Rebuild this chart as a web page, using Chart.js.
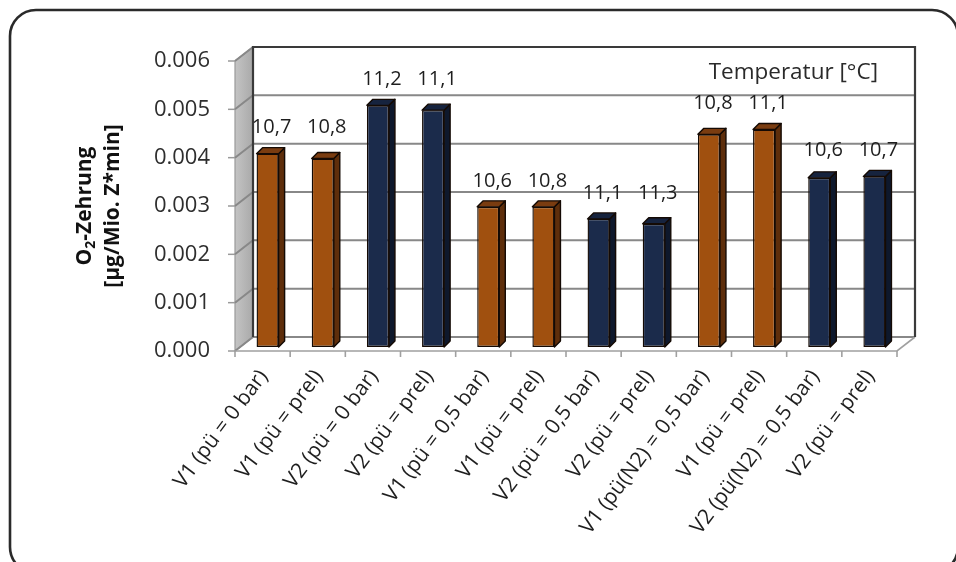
<!DOCTYPE html>
<html>
<head>
<meta charset="utf-8">
<script src="https://cdn.jsdelivr.net/npm/chart.js@4.4.1/dist/chart.umd.min.js"></script>
<style>
  html, body { margin: 0; padding: 0; background: #fff; }
  canvas { display: block; }
</style>
</head>
<body>
<canvas id="c" width="956" height="562"></canvas>
<script>
// Versuchsvarianten (Kategorien der x-Achse)
const categories = [
  'V1 (pü = 0 bar)', 'V1 (pü = prel)', 'V2 (pü = 0 bar)', 'V2 (pü = prel)',
  'V1 (pü = 0,5 bar)', 'V1 (pü = prel)', 'V2 (pü = 0,5 bar)', 'V2 (pü = prel)',
  'V1 (pü(N2) = 0,5 bar)', 'V1 (pü = prel)', 'V2 (pü(N2) = 0,5 bar)', 'V2 (pü = prel)'
];

// O2-Zehrung in µg/Mio. Z*min
const zehrung = [
  0.0040, 0.0039, 0.0050, 0.0049,
  0.0029, 0.0029, 0.00265, 0.00255,
  0.0044, 0.0045, 0.0035, 0.00353
];

// gemessene Temperatur je Variante in °C
const temperaturen = [
  '10,7', '10,8', '11,2', '11,1',
  '10,6', '10,8', '11,1', '11,3',
  '10,8', '11,1', '10,6', '10,7'
];

// Achsenbereich der y-Achse
const yMin = 0;
const yMax = 0.006;
const yStep = 0.001;

// Farben je Versuchsreihe: Vorderseite, Seitenfläche, Deckfläche
const palette = {
  V1: { front: '#A0500F', side: '#5E2E0B', top: '#7A3C10' },
  V2: { front: '#1B2B4B', side: '#0E182C', top: '#16233E' }
};
const seriesOf = (label) => label.startsWith('V1') ? 'V1' : 'V2';

const FONT = "'Open Sans', 'DejaVu Sans', sans-serif";

// Raumtiefe der Wände und der Säulen (Pseudo-3D)
const WALL_DX = 18, WALL_DY = 14;
const BAR_SHIFT_X = 5, BAR_SHIFT_Y = -4;
const BAR_DX = 6, BAR_DY = 6;

const frame3d = {
  id: 'frame3d',
  beforeDraw(chart) {
    const { ctx, width, height } = chart;
    ctx.save();
    ctx.fillStyle = '#fff';
    ctx.fillRect(0, 0, width, height);
    // abgerundeter Rahmen
    ctx.strokeStyle = '#2a2a2a';
    ctx.lineWidth = 2.6;
    ctx.beginPath();
    ctx.roundRect(10, 10, 948, 563, 26);
    ctx.stroke();
    ctx.restore();
  },
  beforeDatasetsDraw(chart) {
    const { ctx, chartArea: a, scales: { y } } = chart;
    const L = a.left, R = a.right, T = a.top, B = a.bottom;
    ctx.save();

    // Rückwand
    ctx.fillStyle = '#fff';
    ctx.fillRect(L + WALL_DX, T - WALL_DY, R - L, B - T);

    // Seitenwand links
    ctx.beginPath();
    ctx.moveTo(L, T);
    ctx.lineTo(L + WALL_DX, T - WALL_DY);
    ctx.lineTo(L + WALL_DX, B - WALL_DY);
    ctx.lineTo(L, B);
    ctx.closePath();
    const g = ctx.createLinearGradient(L, 0, L + WALL_DX, 0);
    g.addColorStop(0, '#c4c4c4');
    g.addColorStop(1, '#a9a9a9');
    ctx.fillStyle = g;
    ctx.fill();
    ctx.strokeStyle = '#9a9a9a';
    ctx.lineWidth = 1.2;
    ctx.stroke();

    // Gitterlinien auf Rück- und Seitenwand
    ctx.strokeStyle = '#888';
    ctx.lineWidth = 2;
    y.ticks.forEach((t) => {
      const py = y.getPixelForValue(t.value);
      ctx.beginPath();
      ctx.moveTo(L, py);
      ctx.lineTo(L + WALL_DX, py - WALL_DY);
      ctx.lineTo(R + WALL_DX, py - WALL_DY);
      ctx.stroke();
    });

    // Teilstriche der y-Achse
    ctx.strokeStyle = '#9a9a9a';
    ctx.lineWidth = 1.5;
    y.ticks.forEach((t) => {
      const py = y.getPixelForValue(t.value);
      ctx.beginPath();
      ctx.moveTo(L - 7, py);
      ctx.lineTo(L, py);
      ctx.stroke();
    });

    // Boden
    ctx.strokeStyle = '#a0a0a0';
    ctx.lineWidth = 1.6;
    ctx.beginPath();
    ctx.moveTo(L, B);
    ctx.lineTo(R, B);
    ctx.lineTo(R + WALL_DX, B - WALL_DY);
    ctx.stroke();

    // Teilstriche der x-Achse an den Kategoriegrenzen
    const n = categories.length;
    const step = (R - L) / n;
    for (let k = 0; k <= n; k++) {
      const px = L + k * step;
      ctx.beginPath();
      ctx.moveTo(px, B);
      ctx.lineTo(px, B + 6);
      ctx.stroke();
    }

    // Kanten der Rückwand
    ctx.strokeStyle = '#3a3a3a';
    ctx.lineWidth = 2.2;
    ctx.beginPath();
    ctx.moveTo(L + WALL_DX, B - WALL_DY);
    ctx.lineTo(L + WALL_DX, T - WALL_DY);
    ctx.lineTo(R + WALL_DX, T - WALL_DY);
    ctx.lineTo(R + WALL_DX, B - WALL_DY);
    ctx.stroke();

    ctx.restore();

    // Säulen etwas in die Tiefe versetzt zeichnen
    ctx.save();
    ctx.translate(BAR_SHIFT_X, BAR_SHIFT_Y);
  },
  afterDatasetsDraw(chart) {
    const { ctx } = chart;
    const meta = chart.getDatasetMeta(0);
    const tops = [];
    meta.data.forEach((bar, i) => {
      const { x, y, base, width } = bar.getProps(['x', 'y', 'base', 'width'], true);
      const c = palette[seriesOf(categories[i])];
      const l = x - width / 2, r = x + width / 2;
      ctx.lineWidth = 1.4;
      ctx.strokeStyle = '#140a04';
      ctx.lineJoin = 'round';
      // Seitenfläche
      ctx.beginPath();
      ctx.moveTo(r, y);
      ctx.lineTo(r + BAR_DX, y - BAR_DY);
      ctx.lineTo(r + BAR_DX, base - BAR_DY);
      ctx.lineTo(r, base);
      ctx.closePath();
      ctx.fillStyle = c.side;
      ctx.fill();
      ctx.stroke();
      // Deckfläche
      ctx.beginPath();
      ctx.moveTo(l, y);
      ctx.lineTo(l + BAR_DX, y - BAR_DY);
      ctx.lineTo(r + BAR_DX, y - BAR_DY);
      ctx.lineTo(r, y);
      ctx.closePath();
      ctx.fillStyle = c.top;
      ctx.fill();
      ctx.stroke();
      tops.push({ x: x + BAR_DX / 2, y: y });
    });

    // Temperaturen paarweise auf gleicher Höhe über den Säulen
    ctx.fillStyle = '#1e1e1e';
    ctx.font = `20px ${FONT}`;
    ctx.textAlign = 'center';
    ctx.textBaseline = 'middle';
    for (let i = 0; i < tops.length; i += 2) {
      const py = Math.min(tops[i].y, tops[i + 1].y) - 26;
      ctx.fillText(temperaturen[i], tops[i].x + 1, py);
      ctx.fillText(temperaturen[i + 1], tops[i + 1].x + 1, py);
    }
    ctx.restore();

    // Beschriftung der Temperaturwerte
    const a = chart.chartArea;
    const yS = chart.scales.y;
    ctx.save();
    ctx.fillStyle = '#2a2a2a';
    ctx.font = `22.5px ${FONT}`;
    ctx.textAlign = 'right';
    ctx.textBaseline = 'middle';
    const cellMid = (yS.getPixelForValue(yMax) + yS.getPixelForValue(yMax - yStep)) / 2 - WALL_DY;
    ctx.fillText('Temperatur [°C]', a.right + WALL_DX - 37, cellMid + 1);
    ctx.restore();
  },
  afterDraw(chart) {
    // Achsentitel mit tiefgestellter 2
    const { ctx } = chart;
    const cy = 206;
    const big = `bold 21px ${FONT}`;
    const small = `bold 14px ${FONT}`;
    ctx.save();
    ctx.fillStyle = '#111';
    ctx.translate(85, cy);
    ctx.rotate(-Math.PI / 2);
    ctx.textBaseline = 'middle';
    ctx.font = big;
    const wO = ctx.measureText('O').width;
    const wRest = ctx.measureText('-Zehrung').width;
    ctx.font = small;
    const w2 = ctx.measureText('2').width;
    const x0 = -(wO + w2 + wRest) / 2;
    ctx.textAlign = 'left';
    ctx.font = big;
    ctx.fillText('O', x0, 0);
    ctx.font = small;
    ctx.fillText('2', x0 + wO, 6);
    ctx.font = big;
    ctx.fillText('-Zehrung', x0 + wO + w2, 0);
    ctx.restore();

    ctx.save();
    ctx.fillStyle = '#111';
    ctx.translate(113, cy);
    ctx.rotate(-Math.PI / 2);
    ctx.textAlign = 'center';
    ctx.textBaseline = 'middle';
    ctx.font = big;
    ctx.fillText('[µg/Mio. Z*min]', 0, 0);
    ctx.restore();
  }
};

new Chart(document.getElementById('c'), {
  type: 'bar',
  data: {
    labels: categories,
    datasets: [{
      data: zehrung,
      backgroundColor: categories.map((c) => palette[seriesOf(c)].front),
      borderColor: '#140a04',
      borderWidth: 1.4,
      borderSkipped: false,
      barPercentage: 0.4,
      categoryPercentage: 1
    }]
  },
  options: {
    responsive: false,
    animation: false,
    events: [],
    layout: { padding: { top: 61, right: 59, left: 0, bottom: 0 } },
    plugins: { legend: { display: false }, tooltip: { enabled: false } },
    scales: {
      x: {
        grid: { display: false, drawTicks: false },
        border: { display: false },
        ticks: {
          autoSkip: false,
          maxRotation: 53,
          minRotation: 53,
          labelOffset: 1,
          padding: 14,
          color: '#1e1e1e',
          font: { family: FONT, size: 21 }
        },
        afterFit(scale) { scale.height = 211; }
      },
      y: {
        min: yMin,
        max: yMax,
        grid: { display: false, drawTicks: false },
        border: { display: false },
        ticks: {
          stepSize: yStep,
          padding: 25,
          color: '#2e2e2e',
          font: { family: FONT, size: 22 },
          callback: (v) => v.toFixed(3)
        },
        afterFit(scale) { scale.width = 235; }
      }
    }
  },
  plugins: [frame3d]
});
</script>
</body>
</html>
